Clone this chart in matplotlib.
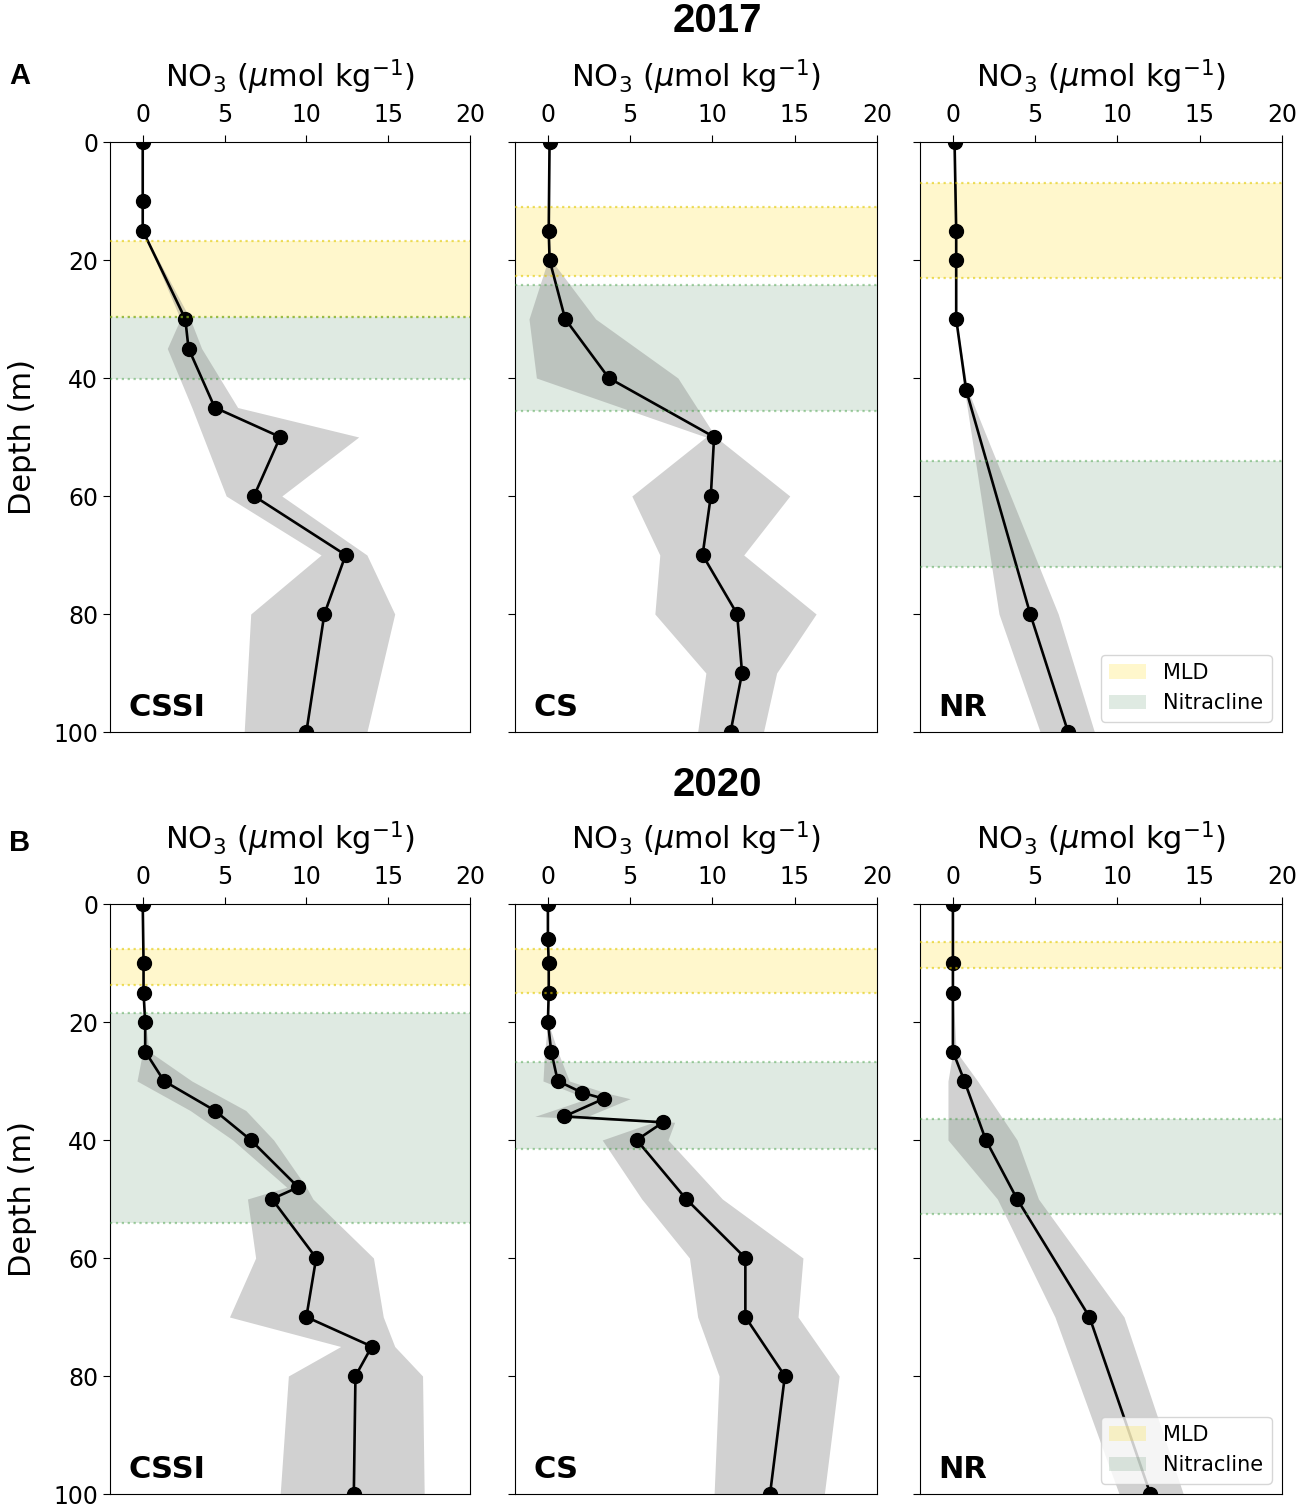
import matplotlib
matplotlib.use("Agg")
import matplotlib.pyplot as plt

# ---- data (depth in m, NO3 in umol/kg) ----
# 2017
depth_cssi_2017 = [0, 10, 15, 30, 35, 45, 50, 60, 70, 80, 100]
no3_cssi_2017 = [0, 0, 0, 2.6, 2.8, 4.4, 8.4, 6.8, 12.4, 11.1, 10.0]
lo_cssi_2017 = [0, 0, 0, 2.3, 1.5, 3.0, 3.7, 5.1, 10.9, 6.6, 6.2]
hi_cssi_2017 = [0, 0, 0, 2.9, 3.6, 5.8, 13.2, 8.5, 13.7, 15.4, 13.7]

depth_cs_2017 = [0, 15, 20, 30, 40, 50, 60, 70, 80, 90, 100]
no3_cs_2017 = [0.1, 0.05, 0.1, 1.05, 3.7, 10.1, 9.9, 9.4, 11.5, 11.8, 11.1]
lo_cs_2017 = [0.1, 0.05, 0.0, -1.15, -0.7, 9.6, 5.1, 6.8, 6.5, 9.6, 9.1]
hi_cs_2017 = [0.1, 0.05, 0.2, 2.9, 7.9, 10.2, 14.7, 11.9, 16.3, 13.9, 13.1]

depth_nr_2017 = [0, 15, 20, 30, 42, 80, 100]
no3_nr_2017 = [0.1, 0.2, 0.2, 0.2, 0.8, 4.7, 7.0]
lo_nr_2017 = [0.1, 0.2, 0.2, 0.2, 0.7, 2.8, 5.3]
hi_nr_2017 = [0.1, 0.2, 0.2, 0.2, 0.9, 6.4, 8.6]

# 2020
depth_cssi_2020 = [0, 10, 15, 20, 25, 30, 35, 40, 48, 50, 60, 70, 75, 80, 100]
no3_cssi_2020 = [0, 0.05, 0.05, 0.15, 0.15, 1.3, 4.4, 6.6, 9.5, 7.9, 10.6, 10.0, 14.0, 13.0, 12.9]
lo_cssi_2020 = [0, 0.05, 0.05, 0.15, 0.0, -0.35, 2.9, 5.5, 8.8, 6.4, 6.9, 5.3, 12.1, 8.9, 8.4]
hi_cssi_2020 = [0, 0.05, 0.05, 0.15, 0.4, 3.0, 6.3, 8.0, 10.0, 10.4, 14.1, 14.7, 15.4, 17.1, 17.2]

depth_cs_2020 = [0, 6, 10, 15, 20, 25, 30, 32, 33, 36, 37, 40, 50, 60, 70, 80, 100]
no3_cs_2020 = [0, 0, 0.05, 0.05, 0, 0.2, 0.6, 2.1, 3.4, 1.0, 7.0, 5.4, 8.4, 12.0, 12.0, 14.4, 13.5]
lo_cs_2020 = [0, 0, 0.05, 0.05, 0, -0.2, -0.3, 1.5, 2.4, -0.8, 6.4, 3.3, 5.7, 8.6, 9.1, 10.4, 10.1]
hi_cs_2020 = [0, 0, 0.05, 0.05, 0, 0.6, 1.3, 3.5, 5.0, 2.4, 7.7, 7.3, 10.6, 15.5, 15.2, 17.7, 16.8]

depth_nr_2020 = [0, 10, 15, 25, 30, 40, 50, 70, 100]
no3_nr_2020 = [0, 0, 0, 0, 0.7, 2.0, 3.9, 8.3, 12.0]
lo_nr_2020 = [0, 0, 0, 0, -0.3, -0.3, 2.7, 6.2, 10.1]
hi_nr_2020 = [0, 0, 0, 0.2, 1.5, 3.9, 5.2, 10.4, 14.0]

# mixed layer depth and nitracline ranges (top, bottom) per panel
mld_2017 = [(16.7, 29.6), (11.0, 22.7), (6.9, 23.0)]
ncl_2017 = [(29.6, 40.2), (24.3, 45.6), (54.1, 72.0)]
mld_2020 = [(7.6, 13.8), (7.6, 15.1), (6.5, 10.8)]
ncl_2020 = [(18.5, 54.0), (26.8, 41.6), (36.4, 52.6)]

stations = ['CSSI', 'CS', 'NR']
years = ['2017', '2020']
row_letters = ['A', 'B']

profiles = {
    '2017': [(depth_cssi_2017, no3_cssi_2017, lo_cssi_2017, hi_cssi_2017),
             (depth_cs_2017, no3_cs_2017, lo_cs_2017, hi_cs_2017),
             (depth_nr_2017, no3_nr_2017, lo_nr_2017, hi_nr_2017)],
    '2020': [(depth_cssi_2020, no3_cssi_2020, lo_cssi_2020, hi_cssi_2020),
             (depth_cs_2020, no3_cs_2020, lo_cs_2020, hi_cs_2020),
             (depth_nr_2020, no3_nr_2020, lo_nr_2020, hi_nr_2020)],
}
bands = {'2017': (mld_2017, ncl_2017), '2020': (mld_2020, ncl_2020)}

W, H = 1299, 1512
fig = plt.figure(figsize=(W / 100, H / 100), dpi=100)

col_px = [(110, 470), (515, 877), (920, 1282)]
row_px = [(142, 732), (904, 1494)]
title_px = [21, 785]
letter_px = [76, 843]

mld_col = 'gold'
ncl_col = '#3d7d4d'

for r, year in enumerate(years):
    top, bot = row_px[r]
    mld, ncl = bands[year]
    for c, st in enumerate(stations):
        left, right = col_px[c]
        ax = fig.add_axes([left / W, 1 - bot / H, (right - left) / W, (bot - top) / H])
        depth, no3, lo, hi = profiles[year][c]

        # MLD and nitracline bands
        ax.axhspan(mld[c][0], mld[c][1], color=mld_col, alpha=0.2, lw=0, label='MLD')
        ax.axhspan(ncl[c][0], ncl[c][1], color=ncl_col, alpha=0.16, lw=0, label='Nitracline')

        # spread and mean profile
        ax.fill_betweenx(depth, lo, hi, color='gray', alpha=0.36, lw=0)
        ax.plot(no3, depth, color='k', lw=1.9, marker='o', ms=10, zorder=3)

        # dotted band edges
        for yv in mld[c]:
            ax.axhline(yv, color='#e0c800', alpha=0.6, ls=':', lw=1.6, zorder=4)
        for yv in ncl[c]:
            ax.axhline(yv, color='#3a9a3a', alpha=0.45, ls=':', lw=1.6, zorder=4)

        ax.set_xlim(-2, 20)
        ax.set_ylim(100, 0)
        ax.set_xticks([0, 5, 10, 15, 20])
        ax.set_yticks([0, 20, 40, 60, 80, 100])
        ax.xaxis.tick_top()
        ax.xaxis.set_label_position('top')
        ax.tick_params(labelsize=17, length=5)
        ax.tick_params(axis='x', pad=6)
        ax.set_xlabel(r'NO$_3$ ($\mu$mol kg$^{-1}$)', fontsize=22, labelpad=11)
        if c == 0:
            ax.set_ylabel('Depth (m)', fontsize=22, labelpad=12)
        else:
            ax.set_yticklabels([])

        ax.text(0.05, 0.017, st, transform=ax.transAxes, fontsize=22,
                fontweight='bold', ha='left', va='bottom')

        if c == 2:
            ax.legend(loc='lower right', fontsize=15, handlelength=1.8)

    fig.text(717 / W, 1 - title_px[r] / H, year, ha='center', va='center',
             fontsize=29, fontweight='bold', family='Liberation Sans')
    fig.text(20 / W, 1 - letter_px[r] / H, row_letters[r], ha='center', va='center',
             fontsize=21, fontweight='bold', family='Liberation Sans')

fig.savefig('out.png', dpi=100)
